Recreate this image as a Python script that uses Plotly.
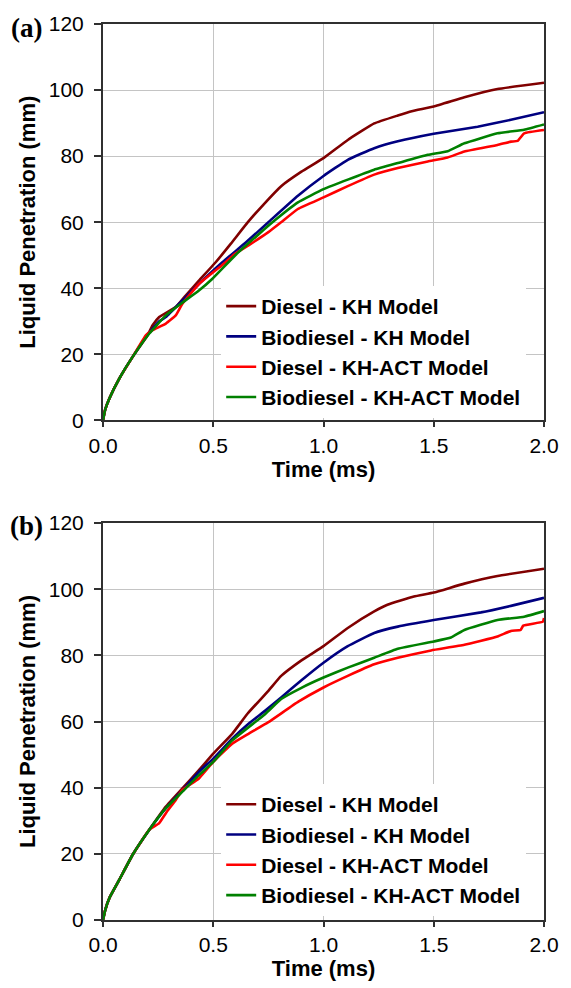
import plotly.graph_objects as go

# ---------------- data: panel (a) ----------------
a_diesel_kh_t = [0, 0.01, 0.03, 0.075, 0.135, 0.2, 0.225, 0.255, 0.33, 0.375, 0.435, 0.51, 0.58, 0.657, 0.73, 0.808, 0.9, 1.0, 1.11, 1.23, 1.337, 1.4, 1.5, 1.639, 1.789, 2.0]
a_diesel_kh_v = [0, 3.3, 6.8, 12.8, 19.3, 25.5, 28.8, 31.3, 34.3, 37.8, 42.3, 47.8, 53.5, 60.0, 65.5, 70.9, 75.3, 79.4, 84.9, 89.9, 92.3, 93.6, 95.0, 97.8, 100.3, 102.2]

a_bio_kh_t = [0, 0.01, 0.03, 0.075, 0.135, 0.2, 0.255, 0.285, 0.36, 0.435, 0.54, 0.65, 0.75, 0.884, 1.0, 1.11, 1.23, 1.337, 1.5, 1.699, 1.85, 2.0]
a_bio_kh_v = [0, 3.3, 6.8, 12.8, 19.3, 25.8, 30.0, 31.3, 36.3, 41.3, 47.8, 54.0, 60.0, 68.0, 74.0, 78.9, 82.4, 84.5, 86.8, 88.9, 91.0, 93.3]

a_diesel_act_t = [0, 0.01, 0.03, 0.075, 0.135, 0.195, 0.225, 0.285, 0.33, 0.36, 0.435, 0.555, 0.6, 0.66, 0.75, 0.808, 0.884, 1.0, 1.11, 1.23, 1.337, 1.473, 1.563, 1.639, 1.789, 1.85, 1.88, 1.91, 2.0]
a_diesel_act_v = [0, 3.3, 6.8, 12.8, 19.3, 25.8, 27.3, 29.3, 31.8, 35.3, 41.3, 47.8, 50.5, 53.0, 57.0, 60.0, 64.0, 67.5, 70.9, 74.4, 76.4, 78.4, 79.6, 81.4, 83.4, 84.4, 84.6, 86.9, 87.9]

a_bio_act_t = [0, 0.01, 0.03, 0.075, 0.135, 0.21, 0.285, 0.353, 0.435, 0.495, 0.6, 0.7, 0.778, 0.884, 1.0, 1.11, 1.23, 1.337, 1.473, 1.563, 1.639, 1.789, 1.91, 2.0]
a_bio_act_v = [0, 3.3, 6.8, 12.8, 19.3, 26.3, 31.8, 35.3, 39.3, 42.8, 50.0, 56.0, 60.5, 66.0, 70.0, 72.9, 75.9, 77.9, 80.4, 81.5, 83.9, 86.9, 88.0, 89.6]

# ---------------- data: panel (b) ----------------
b_diesel_kh_t = [0, 0.01, 0.03, 0.075, 0.135, 0.21, 0.285, 0.36, 0.435, 0.5, 0.586, 0.657, 0.75, 0.808, 0.9, 1.0, 1.11, 1.23, 1.29, 1.41, 1.5, 1.639, 1.789, 2.0]
b_diesel_kh_v = [0, 3.0, 6.8, 12.3, 19.8, 27.3, 34.3, 39.8, 45.3, 50.3, 56.3, 62.5, 69.3, 73.8, 78.5, 82.8, 88.3, 93.3, 95.3, 97.8, 99.0, 101.7, 104.0, 106.2]

b_bio_kh_t = [0, 0.01, 0.03, 0.075, 0.135, 0.21, 0.285, 0.36, 0.435, 0.5, 0.586, 0.66, 0.736, 0.808, 0.9, 1.0, 1.11, 1.23, 1.337, 1.5, 1.714, 1.864, 2.0]
b_bio_kh_v = [0, 3.0, 6.8, 12.3, 19.8, 27.3, 33.8, 39.3, 44.8, 48.8, 54.8, 59.3, 63.3, 67.3, 72.5, 77.8, 82.8, 86.8, 88.7, 90.7, 93.0, 95.2, 97.4]

b_diesel_act_t = [0, 0.01, 0.03, 0.075, 0.135, 0.21, 0.255, 0.285, 0.33, 0.36, 0.435, 0.5, 0.586, 0.66, 0.75, 0.886, 1.0, 1.11, 1.23, 1.337, 1.488, 1.639, 1.789, 1.85, 1.894, 1.906, 1.995, 2.0]
b_diesel_act_v = [0, 3.0, 6.8, 12.3, 19.8, 27.3, 29.3, 32.3, 36.3, 39.3, 42.8, 47.8, 53.3, 56.3, 59.8, 66.0, 70.3, 73.8, 77.3, 79.3, 81.5, 83.2, 85.7, 87.4, 87.7, 89.0, 90.2, 91.3]

b_bio_act_t = [0, 0.01, 0.03, 0.075, 0.135, 0.21, 0.285, 0.36, 0.435, 0.5, 0.586, 0.736, 0.808, 0.9, 1.0, 1.11, 1.23, 1.337, 1.5, 1.578, 1.639, 1.789, 1.91, 2.0]
b_bio_act_v = [0, 3.0, 6.8, 12.3, 19.8, 27.3, 33.8, 38.8, 43.8, 47.8, 54.3, 62.3, 66.8, 70.2, 73.3, 76.3, 79.3, 82.0, 84.2, 85.4, 87.7, 90.7, 91.7, 93.4]

series_names = ["Diesel - KH Model", "Biodiesel - KH Model", "Diesel - KH-ACT Model", "Biodiesel - KH-ACT Model"]
series_colors = ["#800000", "#000080", "#FF0000", "#008000"]

x_ticks = [0.0, 0.5, 1.0, 1.5, 2.0]
x_tick_labels = ["0.0", "0.5", "1.0", "1.5", "2.0"]
y_ticks = [0, 20, 40, 60, 80, 100, 120]
panel_labels = ["(a)", "(b)"]

SANS = "Liberation Sans, Arial, sans-serif"

panel_a = [(a_diesel_kh_t, a_diesel_kh_v), (a_bio_kh_t, a_bio_kh_v),
           (a_diesel_act_t, a_diesel_act_v), (a_bio_act_t, a_bio_act_v)]
panel_b = [(b_diesel_kh_t, b_diesel_kh_v), (b_bio_kh_t, b_bio_kh_v),
           (b_diesel_act_t, b_diesel_act_v), (b_bio_act_t, b_bio_act_v)]

fig = go.Figure()
for i, (t, v) in enumerate(panel_a):
    fig.add_trace(go.Scatter(x=t, y=v, mode="lines", name=series_names[i],
                             line=dict(color=series_colors[i], width=2.6, shape="spline", smoothing=0.35),
                             xaxis="x", yaxis="y", legend="legend"))
for i, (t, v) in enumerate(panel_b):
    fig.add_trace(go.Scatter(x=t, y=v, mode="lines", name=series_names[i],
                             line=dict(color=series_colors[i], width=2.6, shape="spline", smoothing=0.35),
                             xaxis="x2", yaxis="y2", legend="legend2"))

H, W = 988, 571
mt, mb, ml, mr = 19, 66, 103, 24
ph = H - mt - mb
a_bottom = (H - mb - 418.5) / ph
b_top = (H - mb - 522) / ph


def xax(anchor):
    return dict(range=[0, 2], tickvals=x_ticks, ticktext=x_tick_labels, anchor=anchor,
                domain=[0, 1], showgrid=True, gridcolor="#c4c4c4", gridwidth=1,
                showline=True, linecolor="#303030", linewidth=2, mirror=True,
                ticks="outside", ticklen=5, tickcolor="#303030", tickwidth=1.5,
                tickfont=dict(family=SANS, size=21, color="black"),
                title=dict(text="<b>Time (ms)</b>", font=dict(family=SANS, size=22, color="black"), standoff=4),
                zeroline=False, fixedrange=True)


def yax(anchor, dom):
    return dict(range=[0, 120], tickvals=y_ticks, anchor=anchor, domain=dom,
                showgrid=True, gridcolor="#c4c4c4", gridwidth=1,
                showline=True, linecolor="#303030", linewidth=2, mirror=True,
                ticks="outside", ticklen=7, tickcolor="#303030", tickwidth=1.5,
                ticklabelstandoff=6,
                tickfont=dict(family=SANS, size=21, color="black"),
                title=dict(text="<b>Liquid Penetration (mm)</b>", font=dict(family=SANS, size=22, color="black"), standoff=7),
                zeroline=False, fixedrange=True)


def leg(ytop):
    return dict(x=0.268, xanchor="left", y=ytop, yanchor="top", bgcolor="white",
                borderwidth=0, font=dict(family=SANS, size=21, color="black", weight="bold"),
                itemwidth=30, tracegroupgap=0)


fig.update_layout(
    width=W, height=H,
    margin=dict(l=ml, r=mr, t=mt, b=mb),
    paper_bgcolor="white", plot_bgcolor="white",
    xaxis=xax("y"), yaxis=yax("x", [a_bottom, 1]),
    xaxis2=xax("y2"), yaxis2=yax("x2", [0, b_top]),
    legend=leg((H - mb - 283) / ph),
    legend2=leg((H - mb - 785) / ph),
    showlegend=True,
)

for lab, ypx in zip(panel_labels, [23, 525]):
    fig.add_annotation(text="<b>" + lab + "</b>", xref="paper", yref="paper",
                       x=(26 - ml) / (W - ml - mr), y=(H - mb - ypx) / ph,
                       xanchor="center", yanchor="middle", showarrow=False,
                       font=dict(family="Liberation Serif, Times New Roman, serif", size=27, color="black"))

fig.write_html("out.html")
